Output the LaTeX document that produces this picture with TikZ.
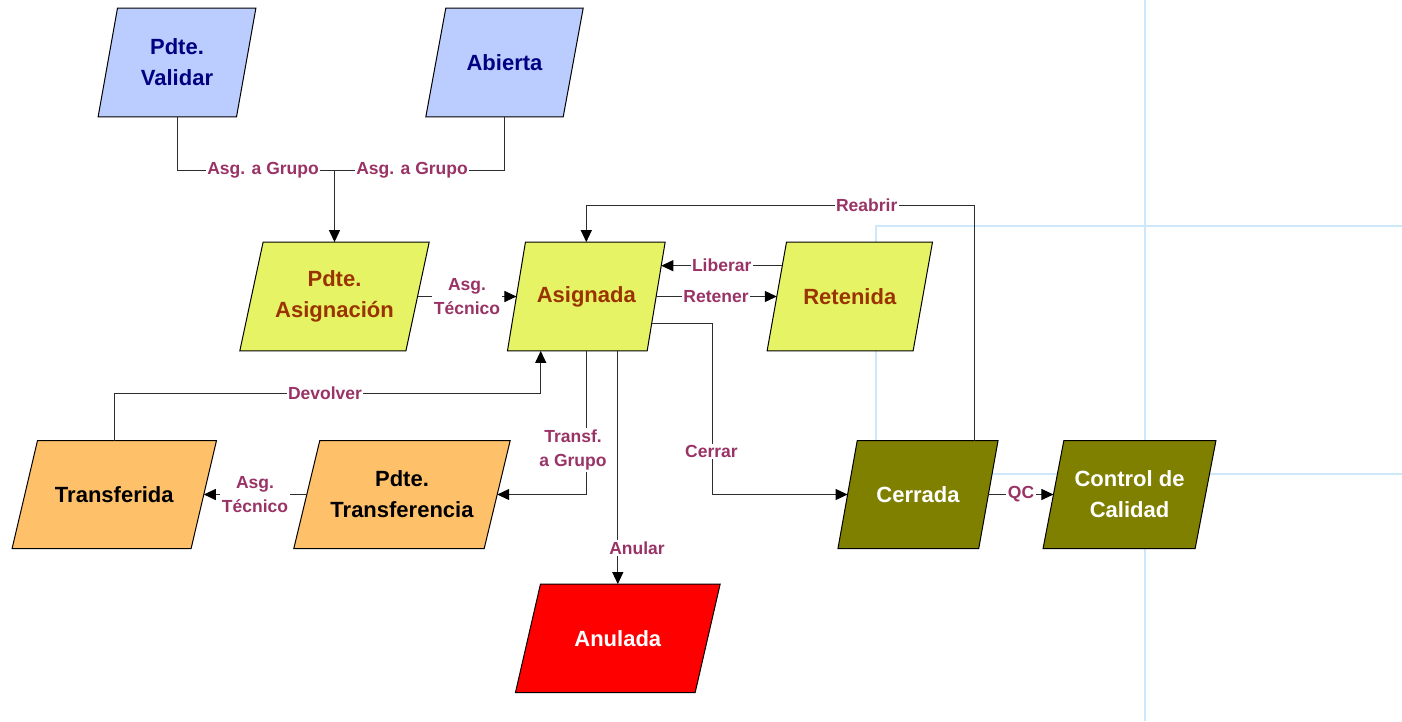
\documentclass[tikz,border=0pt]{standalone}
\usepackage{fontspec}
\setmainfont{Liberation Sans}
\usetikzlibrary{arrows.meta,backgrounds,calc}
\definecolor{bluef}{RGB}{187,204,255}
\definecolor{bluet}{RGB}{0,0,128}
\definecolor{yelf}{RGB}{230,243,100}
\definecolor{yelt}{RGB}{153,51,0}
\definecolor{oraf}{RGB}{255,192,106}
\definecolor{redf}{RGB}{255,0,0}
\definecolor{olvf}{RGB}{128,128,0}
\definecolor{labc}{RGB}{153,51,102}
\definecolor{gridc}{RGB}{205,232,250}
\definecolor{linec}{RGB}{45,45,45}
\tikzset{
  stbox/.style={inner sep=0pt, align=center, font=\fontsize{22}{31}\selectfont\bfseries},
  lbl/.style={fill=white, inner sep=1.5pt, align=center, text=labc, font=\fontsize{17.5}{24}\selectfont\bfseries},
  conn/.style={draw=linec, line width=1pt},
  arr/.style={conn, -{Triangle[length=12pt,width=11pt,color=black]}},
  pgline/.style={draw=black, line width=1pt, line join=miter},
}
\newcommand\pgram[3]{%
  \begin{scope}[on background layer]
    \draw[pgline, fill=#3] ([xshift=#2pt]#1.north west) -- (#1.north east) -- ([xshift=-#2pt]#1.south east) -- (#1.south west) -- cycle;
  \end{scope}}
\begin{document}
\begin{tikzpicture}[x=1pt,y=1pt]
\useasboundingbox (0,0) rectangle (1402,-721);
% light guide lines
\begin{scope}[on background layer]
  \draw[gridc, line width=1.5pt] (1145,0) -- (1145,-721);
  \draw[gridc, line width=1.5pt] (1402,-226) -- (876,-226) -- (876,-474) -- (1402,-474);
\end{scope}

% state nodes
\node[stbox, minimum width=157.4pt, minimum height=108.4pt, text=bluet] (pv) at (177,-62.5) {Pdte.\\Validar};
\node[stbox, minimum width=157pt, minimum height=108.4pt, text=bluet] (ab) at (504.5,-62.5) {Abierta};
\node[stbox, minimum width=189pt, minimum height=108.4pt, text=yelt] (pa) at (334.5,-296.5) {Pdte.\\Asignación};
\node[stbox, minimum width=157.3pt, minimum height=108.4pt, text=yelt] (as) at (586.3,-296.5) {Asignada};
\node[stbox, minimum width=165pt, minimum height=108.4pt, text=yelt] (re) at (849.8,-296.5) {Retenida};
\node[stbox, minimum width=204pt, minimum height=107.6pt, text=black] (tr) at (114.3,-494.5) {Transferida};
\node[stbox, minimum width=216pt, minimum height=107.6pt, text=black] (pt) at (402,-494.5) {Pdte.\\Transferencia};
\node[stbox, minimum width=204.3pt, minimum height=108pt, text=white] (an) at (617.8,-638.3) {Anulada};
\node[stbox, minimum width=159.7pt, minimum height=107.6pt, text=white] (ce) at (918,-494.5) {Cerrada};
\node[stbox, minimum width=172.5pt, minimum height=107.6pt, text=white] (qc) at (1129.5,-494.5) {Control de\\Calidad};

\pgram{pv}{19.4}{bluef}
\pgram{ab}{20}{bluef}
\pgram{pa}{23.3}{yelf}
\pgram{as}{18}{yelf}
\pgram{re}{19.4}{yelf}
\pgram{tr}{25.4}{oraf}
\pgram{pt}{26}{oraf}
\pgram{an}{25}{redf}
\pgram{ce}{19.3}{olvf}
\pgram{qc}{20.8}{olvf}

% connectors
\coordinate (j) at (334.5,-170.7);
\draw[conn] (pv.south) |- (j);
\draw[conn] (ab.south) |- (j);
\draw[arr] (j) -- (pa.north);
\draw[arr] ([xshift=-11.65pt]pa.east) -- ([xshift=9pt]as.west);
\coordinate (rb) at (586.3,-205);
\draw[arr] ([xshift=56.6pt]ce.north) |- (rb) -- (as.north);
\draw[arr] ([xshift=15.2pt,yshift=30.8pt]re.west) -- ([xshift=-3.9pt,yshift=30.8pt]as.east);
\draw[arr] ([xshift=-9pt]as.east) -- ([xshift=9.7pt]re.west);
\coordinate (cr) at (712.3,-494.5);
\draw[arr] ([xshift=-13.4pt,yshift=-26.8pt]as.east) -| (cr) -- ([xshift=9.65pt]ce.west);
\coordinate (dv) at (540.7,-393.3);
\draw[arr] (tr.north) |- (dv) -- (dv |- as.south);
\draw[arr] (as.south) |- ([xshift=-13pt]pt.east);
\draw[arr] ([xshift=13pt]pt.west) -- ([xshift=-12.7pt]tr.east);
\draw[arr] (an.north |- as.south) -- (an.north);
\draw[arr] ([xshift=-9.65pt]ce.east) -- ([xshift=10.4pt]qc.west);

% labels
\node[lbl] (l1) at (263,-170.7) {Asg. a Grupo};
\node[lbl] (l2) at (412,-170.7) {Asg. a Grupo};
\node[lbl] (l3) at (467,-296.5) {Asg.\\Técnico};
\node[lbl] (l4) at (721.7,-265.7) {Liberar};
\node[lbl] (l5) at (716,-296.5) {Retener};
\node[lbl] (l6) at (866.7,-205) {Reabrir};
\node[lbl] (l7) at (325,-393.3) {Devolver};
\node[lbl] (l8) at (573,-450) {Transf.\\a Grupo};
\node[lbl] (l9) at (711.4,-451.7) {Cerrar};
\node[lbl] (l10) at (255,-495) {Asg.\\Técnico};
\node[lbl] (l11) at (637,-548) {Anular};
\node[lbl] (l12) at (1021,-494.5) {QC};
\end{tikzpicture}
\end{document}
